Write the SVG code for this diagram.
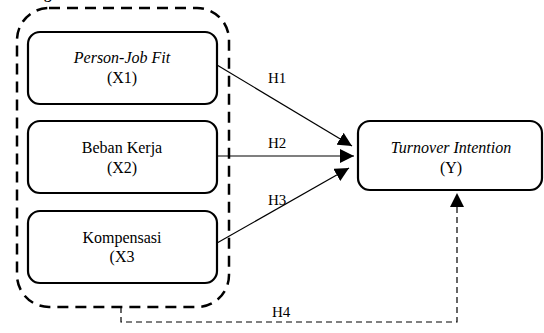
<svg xmlns="http://www.w3.org/2000/svg" width="544" height="333" viewBox="0 0 544 333">
<defs>
<style>
.box{fill:#fff;stroke:#000;stroke-width:2.2}
.t{font-family:'Liberation Serif','Times New Roman','DejaVu Serif',serif;font-size:16px;fill:#000;text-anchor:middle}
.i{font-style:italic}
.lbl{font-family:'Liberation Serif','Times New Roman','DejaVu Serif',serif;font-size:15px;fill:#000}
.c{stroke:#000;stroke-width:1.2;fill:none}
.d{stroke:#000;stroke-width:1.2;fill:none;stroke-dasharray:6 4}
</style>
<marker id="ah" viewBox="0 0 10 10" refX="10" refY="5" markerWidth="14" markerHeight="14" markerUnits="userSpaceOnUse" orient="auto">
<path d="M0,0 L10,5 L0,10 Z" fill="#000"/>
</marker>
</defs>
<rect width="544" height="333" fill="#fff"/>
<text x="44" y="-1" class="lbl" style="font-weight:bold">g</text>
<g id="group">
<rect x="17" y="8" width="212" height="299" rx="32" ry="32" fill="none" stroke="#000" stroke-width="2.5" stroke-dasharray="11 7"/>
</g>
<g id="connectors">
<line class="c" x1="217" y1="65" x2="352" y2="146" marker-end="url(#ah)"/>
<line class="c" x1="217" y1="156" x2="354" y2="156" marker-end="url(#ah)"/>
<line class="c" x1="217" y1="243" x2="349" y2="168" marker-end="url(#ah)"/>
<polyline class="d" points="121,307 121,322 457,322 457,193" marker-end="url(#ah)"/>
</g>
<g id="x1">
<rect class="box" x="28" y="32" width="189" height="72" rx="12"/>
<text class="t i" x="122" y="63">Person-Job Fit</text>
<text class="t" x="122" y="83">(X1)</text>
</g>
<g id="x2">
<rect class="box" x="28" y="121" width="189" height="72" rx="12"/>
<text class="t" x="122" y="153">Beban Kerja</text>
<text class="t" x="122" y="173">(X2)</text>
</g>
<g id="x3">
<rect class="box" x="28" y="211" width="189" height="72" rx="12"/>
<text class="t" x="122" y="243">Kompensasi</text>
<text class="t" x="122" y="262">(X3</text>
</g>
<g id="y">
<rect class="box" x="358" y="121" width="184" height="69" rx="12"/>
<text class="t i" x="451" y="153">Turnover Intention</text>
<text class="t" x="451" y="173">(Y)</text>
</g>
<g id="labels">
<text class="lbl" x="268" y="83">H1</text>
<text class="lbl" x="268" y="148">H2</text>
<text class="lbl" x="268" y="205">H3</text>
<text class="lbl" x="272" y="317">H4</text>
</g>
</svg>
